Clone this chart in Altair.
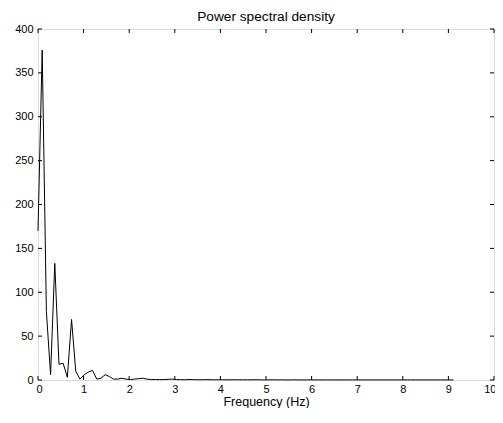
import altair as alt
import pandas as pd

# Frequency bins (Hz) and PSD values
step = 0.092
psd = [
    170, 376, 78, 6, 133, 18, 19, 3, 69, 10,
    1, 6, 9, 11, 1, 2, 6, 4, 1, 1,
    2, 1, 0.5, 1, 1.5, 2, 1, 0.5, 0.6, 0.4,
    0.5, 0.8, 1.0, 0.6, 0.4, 0.3, 0.5, 0.4, 0.3, 0.3,
    0.4, 0.3, 0.2, 0.3, 0.3, 0.2, 0.2, 0.3, 0.2, 0.2,
    0.2, 0.2, 0.3, 0.2, 0.1, 0.2, 0.2, 0.1, 0.2, 0.1,
    0.1, 0.2, 0.1, 0.1, 0.1, 0.2, 0.1, 0.1, 0.1, 0.1,
    0.1, 0.1, 0.1, 0.1, 0.1, 0.1, 0.1, 0.1, 0.1, 0.1,
    0.1, 0.1, 0.1, 0.1, 0.1, 0.1, 0.1, 0.1, 0.1, 0.1,
    0.1, 0.1, 0.1, 0.1, 0.1, 0.1, 0.1, 0.1, 0.1, 0.1,
]
freq = [round(i * step, 4) for i in range(len(psd))]
x_ticks = [0, 1, 2, 3, 4, 5, 6, 7, 8, 9, 10]
y_ticks = [0, 50, 100, 150, 200, 250, 300, 350, 400]

W, H = 456, 351
FONT = "Liberation Sans"

df = pd.DataFrame({"f": freq, "p": psd})
xt = pd.DataFrame({"t": x_ticks})
yt = pd.DataFrame({"t": y_ticks})

xscale = alt.Scale(domain=[0, 10], nice=False)
yscale = alt.Scale(domain=[0, 400], nice=False)

line = alt.Chart(df).mark_line(color="black", strokeWidth=1).encode(
    x=alt.X("f:Q", scale=xscale,
            axis=alt.Axis(values=x_ticks, title="Frequency (Hz)", format="d",
                          tickSize=0, domain=False, grid=False,
                          labelPadding=3, titlePadding=1,
                          labelFlush=True, labelFlushOffset=2,
                          labelFontSize=11, titleFontSize=12.5,
                          titleFontWeight="normal", labelFont=FONT, titleFont=FONT,
                          labelColor="black", titleColor="black")),
    y=alt.Y("p:Q", scale=yscale,
            axis=alt.Axis(values=y_ticks, title=None, format="d",
                          tickSize=0, domain=False, grid=False,
                          labelPadding=5, labelFontSize=11, labelFont=FONT,
                          labelColor="black")),
)

tick_style = dict(color="black", strokeWidth=1)
bottom_ticks = alt.Chart(xt).mark_rule(**tick_style).encode(
    x=alt.X("t:Q", scale=xscale), y=alt.value(H), y2=alt.value(H - 4))
top_ticks = alt.Chart(xt).mark_rule(**tick_style).encode(
    x=alt.X("t:Q", scale=xscale), y=alt.value(0), y2=alt.value(4))
left_ticks = alt.Chart(yt).mark_rule(**tick_style).encode(
    y=alt.Y("t:Q", scale=yscale), x=alt.value(0), x2=alt.value(4))
right_ticks = alt.Chart(yt).mark_rule(**tick_style).encode(
    y=alt.Y("t:Q", scale=yscale), x=alt.value(W), x2=alt.value(W - 4))

chart = alt.layer(line, bottom_ticks, top_ticks, left_ticks, right_ticks).properties(
    width=W, height=H,
    title=alt.TitleParams("Power spectral density", fontSize=13.7, font=FONT,
                          fontWeight="normal", color="black", offset=-1,
                          anchor="middle"),
    autosize=alt.AutoSizeParams(type="none"),
    padding={"left": 30, "top": 21, "right": 1, "bottom": 28},
).configure_view(stroke="black", strokeWidth=1).configure(background="white")

chart.save("out.html", embed_options={"renderer": "svg", "actions": False})
